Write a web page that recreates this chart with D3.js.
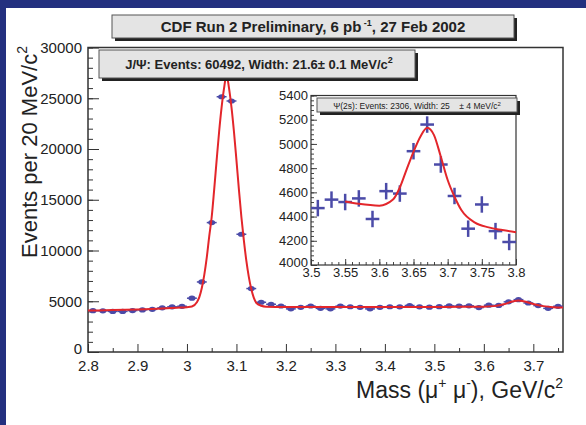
<!DOCTYPE html>
<html>
<head>
<meta charset="utf-8">
<script src="https://cdn.jsdelivr.net/npm/d3@7"></script>
<style>
  body { margin:0; background:#23307f; }
  svg { display:block; }
  text { font-family:"Liberation Sans", Arial, sans-serif; fill:#222; }
</style>
</head>
<body>
<svg id="chart" width="586" height="425"></svg>
<script>
// main histogram, 20 MeV bins
var massBins = [2.81,2.83,2.85,2.87,2.89,2.91,2.93,2.95,2.97,2.99,3.01,3.03,3.05,3.07,3.09,3.11,
  3.13,3.15,3.17,3.19,3.21,3.23,3.25,3.27,3.29,3.31,3.33,3.35,3.37,3.39,3.41,3.43,
  3.45,3.47,3.49,3.51,3.53,3.55,3.57,3.59,3.61,3.63,3.65,3.67,3.69,3.71,3.73,3.75]
var jpsiCounts = [4070,4060,4000,4000,4080,4150,4200,4350,4450,4500,5300,6900,12750,25150,24730,11600,
  6250,4900,4700,4530,4250,4400,4530,4300,4250,4520,4460,4400,4250,4400,4460,4450,
  4580,4450,4420,4470,4540,4520,4550,4380,4610,4590,4940,5160,4830,4570,4300,4500]

// fitted curve
var fitMass = [2.80,2.85,2.90,2.95,2.98,3.00,3.01,3.02,3.025,3.03,3.035,3.04,3.045,3.05,3.055,3.06,3.065,3.07,3.075,3.08,
  3.085,3.09,3.095,3.10,3.105,3.11,3.115,3.12,3.125,3.13,3.135,3.14,3.15,3.16,3.20,3.30,3.40,3.50,3.55,3.60,
  3.62,3.64,3.66,3.67,3.68,3.70,3.72,3.74,3.76]
var fitMain = [4080,4130,4190,4280,4360,4420,4480,4900,5400,6300,7600,9300,11400,13300,16000,18900,21700,24100,26000,27300,
  26000,24100,21700,18900,16000,13300,11000,9000,7400,6200,5350,4850,4560,4470,4440,4430,4430,4440,4450,4470,
  4520,4700,5000,5080,5000,4720,4520,4420,4390]

// inset: psi(2S) region
var insetBins = [3.51,3.53,3.55,3.57,3.59,3.61,3.63,3.65,3.67,3.69,3.71,3.73,3.75,3.77,3.79]
var insetCounts = [4470,4540,4520,4550,4380,4610,4590,4940,5160,4830,4570,4300,4500,4280,4190]
var insetErr = 68
var insetFitMass = [3.55,3.57,3.60,3.62,3.63,3.64,3.65,3.66,3.67,3.68,3.69,3.70,3.71,3.72,3.74,3.76,3.78,3.80]
var insetFit = [4525,4505,4490,4540,4640,4790,4935,5060,5134,5073,4894,4702,4564,4454,4350,4311,4289,4270]

var xTicks = [2.8,2.9,3.0,3.1,3.2,3.3,3.4,3.5,3.6,3.7]
var yTicks = [0,5000,10000,15000,20000,25000,30000]
var ixTicks = [3.5,3.55,3.6,3.65,3.7,3.75,3.8]
var iyTicks = [4000,4200,4400,4600,4800,5000,5200,5400]

var svg = d3.select('#chart')
var markColor = '#4b4ba8', fitColor = '#e3262b'

// white slide panel
svg.append('rect').attr('x',6).attr('y',8).attr('width',580).attr('height',417).attr('fill','#fff')

var x = d3.scaleLinear().domain([2.8,3.76]).range([88,563])
var y = d3.scaleLinear().domain([0,30000]).range([352,47.5])

function box(g, x0, y0, w, h){
  g.append('rect').attr('x',x0+3).attr('y',y0+3).attr('width',w).attr('height',h).attr('fill','#222')
  g.append('rect').attr('x',x0).attr('y',y0).attr('width',w).attr('height',h)
    .attr('fill','#e4e4e4').attr('stroke','#555').attr('stroke-width',1)
}

// title
box(svg, 112, 15, 402, 23)
var t = svg.append('text').attr('x',313).attr('y',32).attr('text-anchor','middle')
  .attr('font-size',15).attr('font-weight','bold')
t.append('tspan').text('CDF Run 2 Preliminary, 6 pb')
t.append('tspan').attr('dy',-6).attr('font-size',9).text(' -1')
t.append('tspan').attr('dy',6).text(', 27 Feb 2002')

// main axes
var main = svg.append('g')
main.append('g').attr('transform','translate(88,0)')
  .call(d3.axisLeft(y).tickValues(d3.range(0,30001,1000)).tickFormat('').tickSizeInner(-5).tickSizeOuter(0))
main.append('g').attr('class','yax').attr('transform','translate(88,0)')
  .call(d3.axisLeft(y).tickValues(yTicks).tickFormat(d3.format('d')).tickSizeInner(-11).tickSizeOuter(0).tickPadding(6))
main.append('g').attr('transform','translate(0,352)')
  .call(d3.axisBottom(x).tickValues(d3.range(2.8,3.761,0.05).filter(function(v){return Math.abs(v*10-Math.round(v*10))>0.01})).tickFormat('').tickSizeInner(-4).tickSizeOuter(0))
main.append('g').attr('class','xax').attr('transform','translate(0,352)')
  .call(d3.axisBottom(x).tickValues(xTicks).tickFormat(d3.format('')).tickSizeInner(-8).tickSizeOuter(0).tickPadding(8))
main.selectAll('.domain').remove()
main.selectAll('.tick line').attr('stroke','#333')
main.selectAll('.tick text').attr('font-size',15).attr('fill','#222').attr('font-family','Liberation Sans, Arial, sans-serif')
// the zero label sits a little above the axis line, as in the original
main.select('.yax').selectAll('.tick text').filter(function(d){return d===0}).attr('dy','0.1em')
main.append('rect').attr('x',88).attr('y',47.5).attr('width',475).attr('height',304.5)
  .attr('fill','none').attr('stroke','#333').attr('stroke-width',1.5)

// axis titles
var yl = svg.append('text').attr('transform','translate(37,152) rotate(-90)').attr('text-anchor','middle').attr('font-size',22)
yl.append('tspan').text('Events per 20 MeV/c')
yl.append('tspan').attr('dy',-10).attr('font-size',14).text('2')
var xl = svg.append('text').attr('x',563).attr('y',398).attr('text-anchor','end').attr('font-size',23)
xl.append('tspan').text('Mass (\u03bc')
xl.append('tspan').attr('dy',-10).attr('font-size',14).text('+')
xl.append('tspan').attr('dy',10).text(' \u03bc')
xl.append('tspan').attr('dy',-10).attr('font-size',14).text('-')
xl.append('tspan').attr('dy',10).text('), GeV/c')
xl.append('tspan').attr('dy',-10).attr('font-size',14).text('2')

// main data points
var pts = main.selectAll('g.pt').data(massBins.map(function(m,i){return {m:m,v:jpsiCounts[i]}}))
  .enter().append('g').attr('class','pt')
pts.append('line').attr('x1',function(d){return x(d.m-0.01)}).attr('x2',function(d){return x(d.m+0.01)})
  .attr('y1',function(d){return y(d.v)}).attr('y2',function(d){return y(d.v)})
  .attr('stroke',markColor).attr('stroke-width',1.5)
pts.append('ellipse').attr('cx',function(d){return x(d.m)}).attr('cy',function(d){return y(d.v)})
  .attr('rx',3.5).attr('ry',2.6).attr('fill',markColor)

main.append('path').datum(fitMass.map(function(m,i){return [m,fitMain[i]]}))
  .attr('d',d3.line().x(function(d){return x(d[0])}).y(function(d){return y(d[1])}).curve(d3.curveMonotoneX))
  .attr('fill','none').attr('stroke',fitColor).attr('stroke-width',2)

// J/psi legend
box(svg, 99, 50, 316, 28)
var lg = svg.append('text').attr('x',259).attr('y',69).attr('text-anchor','middle').attr('font-size',13).attr('font-weight','bold')
lg.append('tspan').text('J/\u03a8: Events: 60492, Width: 21.6\u00b1 0.1 MeV/c')
lg.append('tspan').attr('dy',-6).attr('font-size',9).text('2')

// inset
var ix = d3.scaleLinear().domain([3.5,3.8]).range([311,516])
var iy = d3.scaleLinear().domain([4000,5400]).range([265,95.5])
var inset = svg.append('g')
inset.append('rect').attr('x',311).attr('y',95.5).attr('width',205).attr('height',169.5).attr('fill','#fff')
inset.append('g').attr('transform','translate(311,0)')
  .call(d3.axisLeft(iy).tickValues(d3.range(4000,5401,40)).tickFormat('').tickSizeInner(-3).tickSizeOuter(0))
inset.append('g').attr('class','iyax').attr('transform','translate(311,0)')
  .call(d3.axisLeft(iy).tickValues(iyTicks).tickFormat(d3.format('d')).tickSizeInner(-6).tickSizeOuter(0).tickPadding(3))
inset.append('g').attr('transform','translate(0,265)')
  .call(d3.axisBottom(ix).tickValues(d3.range(3.5,3.801,0.01)).tickFormat('').tickSizeInner(-3).tickSizeOuter(0))
inset.append('g').attr('transform','translate(0,265)')
  .call(d3.axisBottom(ix).tickValues(ixTicks).tickFormat(d3.format('')).tickSizeInner(-6).tickSizeOuter(0).tickPadding(3))
inset.selectAll('.domain').remove()
inset.selectAll('.tick line').attr('stroke','#444')
inset.selectAll('.tick text').attr('font-size',13).attr('fill','#222').attr('font-family','Liberation Sans, Arial, sans-serif')
inset.select('.iyax').selectAll('.tick text').filter(function(d){return d===4000}).attr('dy','0.1em')
inset.append('rect').attr('x',311).attr('y',95.5).attr('width',205).attr('height',169.5)
  .attr('fill','none').attr('stroke','#333').attr('stroke-width',1.2)

var ipts = inset.selectAll('g.ipt').data(insetBins.map(function(m,i){return {m:m,v:insetCounts[i]}}))
  .enter().append('g').attr('class','ipt')
ipts.append('line').attr('x1',function(d){return ix(d.m-0.01)}).attr('x2',function(d){return ix(d.m+0.01)})
  .attr('y1',function(d){return iy(d.v)}).attr('y2',function(d){return iy(d.v)})
  .attr('stroke',markColor).attr('stroke-width',2.5)
ipts.append('line').attr('x1',function(d){return ix(d.m)}).attr('x2',function(d){return ix(d.m)})
  .attr('y1',function(d){return iy(d.v-insetErr)}).attr('y2',function(d){return iy(d.v+insetErr)})
  .attr('stroke',markColor).attr('stroke-width',2.5)

inset.append('path').datum(insetFitMass.map(function(m,i){return [m,insetFit[i]]}))
  .attr('d',d3.line().x(function(d){return ix(d[0])}).y(function(d){return iy(d[1])}).curve(d3.curveMonotoneX))
  .attr('fill','none').attr('stroke',fitColor).attr('stroke-width',2)

box(svg, 317, 98, 200, 14)
var il = svg.append('text').attr('x',417).attr('y',108.5).attr('text-anchor','middle').attr('font-size',8.5)
il.append('tspan').text('\u03a8(2s): Events: 2306, Width: 25\u00a0\u00a0\u00a0\u00a0\u00b1 4 MeV/c')
il.append('tspan').attr('dy',-3).attr('font-size',6).text('2')
</script>
</body>
</html>
